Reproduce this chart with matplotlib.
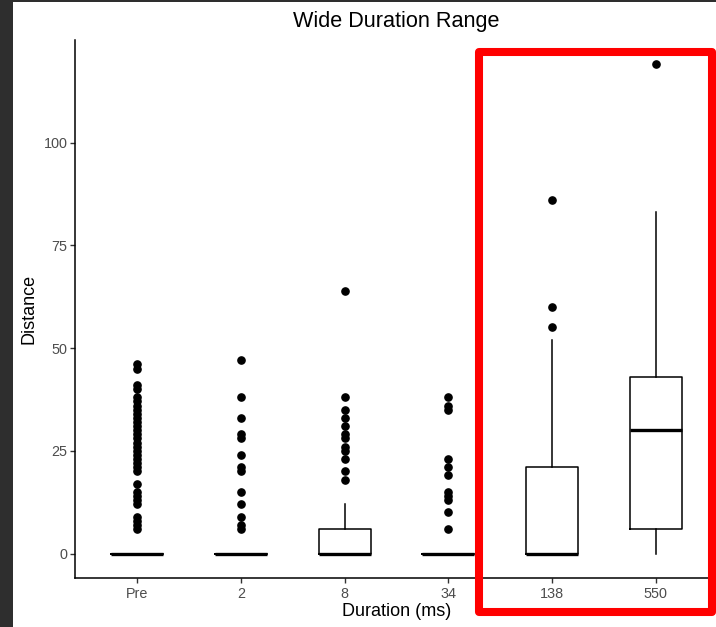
import matplotlib
matplotlib.use("Agg")
import matplotlib.pyplot as plt
from matplotlib.patches import Rectangle

# ---- data ----
categories = ["Pre", "2", "8", "34", "138", "550"]
q1 = [0, 0, 0, 0, 0, 6]
median = [0, 0, 0, 0, 0, 30]
q3 = [0, 0, 6, 0, 21, 43]
whisker_low = [0, 0, 0, 0, 0, 0]
whisker_high = [0, 0, 12, 0, 52, 83]
outliers_pre = [46, 45, 41, 40, 38, 37, 36, 35, 34, 33, 32, 31, 30, 29, 28, 27,
                26, 25, 24, 23, 22, 21, 20, 17, 15, 14, 13, 12, 9, 8, 7, 6]
outliers_2 = [47, 38, 33, 29, 28, 24, 21, 20, 15, 12, 9, 7, 6]
outliers_8 = [64, 38, 35, 33, 31, 29, 28, 26, 25, 23, 20, 18]
outliers_34 = [38, 36, 35, 23, 21, 19, 15, 14, 13, 10, 6]
outliers_138 = [86, 60, 55]
outliers_550 = [119]
outliers = [outliers_pre, outliers_2, outliers_8, outliers_34, outliers_138, outliers_550]

title = "Wide Duration Range"
xlabel = "Duration (ms)"
ylabel = "Distance"
yticks = [0, 25, 50, 75, 100]

plt.rcParams['font.family'] = ['Liberation Sans', 'DejaVu Sans']

W, H = 716, 627
fig = plt.figure(figsize=(W / 100, H / 100), dpi=100)
fig.patch.set_facecolor("white")

# axes placement in pixels
ax_left, ax_right, ax_top, ax_bottom = 75, 718, 40, 578
ax = fig.add_axes([ax_left / W, 1 - ax_bottom / H, (ax_right - ax_left) / W, (ax_bottom - ax_top) / H])

stats = []
for i, c in enumerate(categories):
    stats.append(dict(label=c, q1=q1[i], med=median[i], q3=q3[i],
                      whislo=whisker_low[i], whishi=whisker_high[i], fliers=outliers[i]))

positions = list(range(1, len(categories) + 1))
ax.bxp(stats, positions=positions, widths=0.5, showcaps=False, patch_artist=False,
       boxprops=dict(color="black", linewidth=1.1),
       whiskerprops=dict(color="black", linewidth=1.1),
       medianprops=dict(color="black", linewidth=2.4, solid_capstyle="butt"),
       flierprops=dict(marker="o", markerfacecolor="black", markeredgecolor="black",
                       markersize=5.2, linestyle="none"))

ax.set_xlim(0.4, 6.6)
ax.set_ylim(-5.95, 124.95)
ax.set_yticks(yticks)
ax.set_xticks(positions)
ax.set_xticklabels(categories)

for s in ["top", "right"]:
    ax.spines[s].set_visible(False)
for s in ["left", "bottom"]:
    ax.spines[s].set_linewidth(1.1)
    ax.spines[s].set_color("black")

ax.tick_params(axis="both", direction="out", length=3.5, width=1.0, color="#333333",
               labelcolor="#4D4D4D", labelsize=10.4)
ax.tick_params(axis="x", pad=3)
ax.tick_params(axis="y", pad=2)

ax.set_title(title, fontsize=15.6, color="black", pad=9)
ax.set_xlabel(xlabel, fontsize=13, color="black", va="center")
ax.xaxis.set_label_coords(0.5, (ax_bottom - 611) / (ax_bottom - ax_top))
ax.set_ylabel(ylabel, fontsize=13, color="black", va="center")
ax.yaxis.set_label_coords((29 - ax_left) / (ax_right - ax_left), 0.5)

# dark screenshot border
fig.patches.append(Rectangle((0, 0), 13 / W, 1, transform=fig.transFigure,
                             facecolor="#2e2e2e", edgecolor="none", zorder=5))
fig.patches.append(Rectangle((0, 1 - 2 / H), 1, 2 / H, transform=fig.transFigure,
                             facecolor="#2e2e2e", edgecolor="none", zorder=5))

# red highlight rectangle
rx0, rx1, ry0, ry1 = 479, 712, 51.5, 612
fig.patches.append(Rectangle((rx0 / W, 1 - ry1 / H), (rx1 - rx0) / W, (ry1 - ry0) / H,
                             transform=fig.transFigure, facecolor="none", edgecolor="#FF0000",
                             linewidth=5.8, joinstyle="round", zorder=6))

fig.savefig("out.png", dpi=100)
